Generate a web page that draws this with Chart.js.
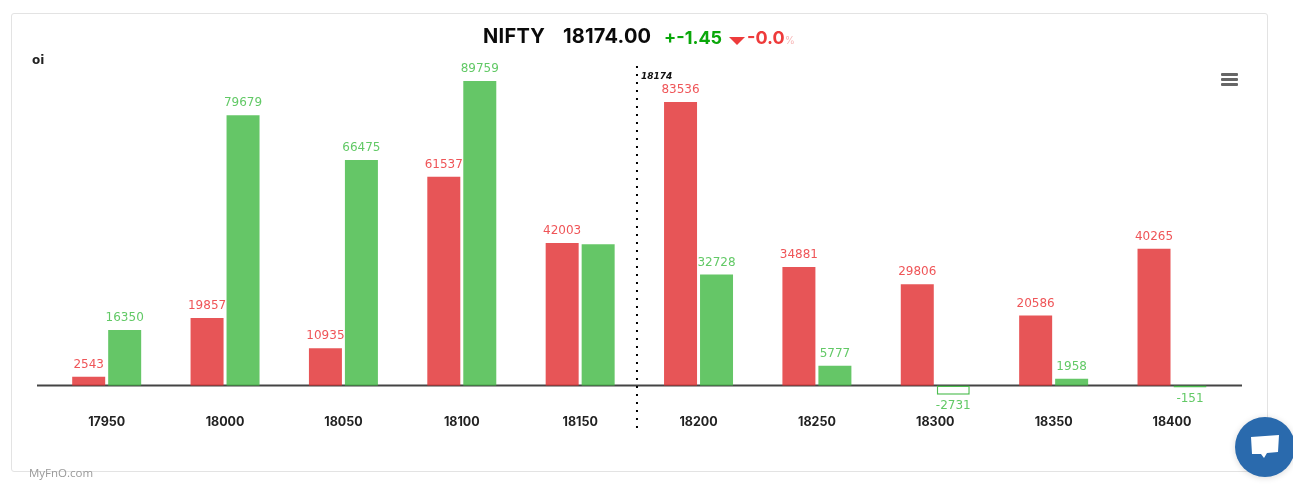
<!DOCTYPE html>
<html>
<head>
<meta charset="utf-8">
<title>NIFTY OI</title>
<script src="https://cdn.jsdelivr.net/npm/chart.js@4"></script>
<style>
  html, body { margin: 0; padding: 0; background: #fff; overflow: hidden; }
  body { width: 1293px; height: 503px; position: relative; font-family: "DejaVu Sans", sans-serif; }
  .card { position: absolute; left: 11px; top: 13px; width: 1255px; height: 457px; border: 1px solid #e3e3e3; border-radius: 3px; }
  canvas { position: absolute; left: 0; top: 0; }
  .head { position: absolute; left: 483px; top: 24px; white-space: nowrap; font-family: Inter, sans-serif; font-weight: 700; line-height: 24px; color: #0a0a0a; }
  .head span { position: absolute; top: 0; }
  .menu { position: absolute; left: 1221px; top: 73px; width: 17px; }
  .menu i { display: block; height: 3px; margin-bottom: 2px; background: #666; border-radius: 1px; }
  .brand { position: absolute; left: 29px; top: 465px; font-size: 11.5px; color: #999; font-family: "Open Sans", sans-serif; }
  .chat { position: absolute; left: 1235px; top: 417px; width: 60px; height: 60px; border-radius: 50%; background: #2a6aad; box-shadow: 0 1px 6px rgba(0,0,0,.15); }
  .chat svg { position: absolute; left: 15px; top: 18px; }
</style>
</head>
<body>
<div class="card"></div>
<canvas id="oi-chart" width="1293" height="503"></canvas>
<div class="head">
  <span style="left:0;font-size:20px;letter-spacing:.3px">NIFTY</span>
  <span style="left:80px;font-size:20px;letter-spacing:.2px">18174.00</span>
  <span style="left:181px;font-size:18px;color:#0aa70a;top:2px">+-1.45</span>
  <span style="left:246px;top:13px;width:0;height:0;border-left:8px solid transparent;border-right:8px solid transparent;border-top:8px solid #ee3b3b"></span>
  <span style="left:264px;font-size:18px;color:#ee3b3b;top:2px">-0.0</span>
  <span style="left:302px;font-size:10px;color:#f7b5b5;font-weight:400;top:4px">%</span>
</div>
<div class="menu"><i></i><i></i><i></i></div>
<div class="brand">MyFnO.com</div>
<div class="chat">
  <svg width="30" height="26" viewBox="0 0 30 26"><path d="M1 2 L29 0 L28 17 L17 18 L14 23 L11 19 L2 19 Z" fill="#fff"/></svg>
</div>

<script>
  // ── Data ───────────────────────────────────────────────────────────
  const STRIKES   = ['17950', '18000', '18050', '18100', '18150', '18200', '18250', '18300', '18350', '18400'];
  const PUT_OI    = [2543, 19857, 10935, 61537, 42003, 83536, 34881, 29806, 20586, 40265];
  const CALL_OI   = [16350, 79679, 66475, 89759, 41650, 32728, 5777, -2731, 1958, -151];
  const UNLABELLED_CALLS = ['18150'];   // label is missing on the source chart
  const SPOT      = 18174;
  const SPOT_LOW  = '18150';
  const SPOT_HIGH = '18200';
  const Y_TITLE   = 'oi';

  // ── Colours ────────────────────────────────────────────────────────
  const RED_FILL    = 'rgba(227,55,58,0.85)';
  const GREEN_FILL  = 'rgba(74,188,76,0.85)';
  const RED_LABEL   = '#ef5558';
  const GREEN_LABEL = '#62c966';
  const GREEN_LINE  = '#4dbd50';

  const LABEL_FONT = '12px "DejaVu Sans", sans-serif';

  // ── Baseline, under the bars ───────────────────────────────────────
  const baseline = {
    id: 'baseline',
    beforeDatasetsDraw(chart) {
      const { ctx } = chart;
      const y = chart.scales.y.getPixelForValue(0);
      ctx.save();
      ctx.strokeStyle = '#444';
      ctx.lineWidth = 2;
      ctx.beginPath();
      ctx.moveTo(37, y);
      ctx.lineTo(1242, y);
      ctx.stroke();
      ctx.restore();
    },
  };

  // ── Value labels, spot marker, y title ─────────────────────────────
  const overlays = {
    id: 'overlays',
    afterDatasetsDraw(chart) {
      const { ctx, scales } = chart;
      ctx.save();
      ctx.font = LABEL_FONT;
      ctx.textAlign = 'center';
      ctx.textBaseline = 'middle';

      chart.data.datasets.forEach((ds, di) => {
        const meta = chart.getDatasetMeta(di);
        ds.data.forEach((v, i) => {
          if (di === 1 && UNLABELLED_CALLS.includes(STRIKES[i])) return;
          const bar = meta.data[i];
          ctx.fillStyle = di === 0 ? RED_LABEL : GREEN_LABEL;
          ctx.fillText(String(v), bar.x, v < 0 ? bar.y + 11 : bar.y - 12);
        });
      });

      // spot sits between two strikes on the category axis
      const lo = scales.x.getPixelForValue(STRIKES.indexOf(SPOT_LOW));
      const hi = scales.x.getPixelForValue(STRIKES.indexOf(SPOT_HIGH));
      const x = lo + (hi - lo) * (SPOT - +SPOT_LOW) / (+SPOT_HIGH - +SPOT_LOW);
      ctx.strokeStyle = '#000';
      ctx.lineWidth = 2;
      ctx.setLineDash([2, 6]);
      ctx.beginPath();
      ctx.moveTo(x, 66);
      ctx.lineTo(x, 428);
      ctx.stroke();
      ctx.setLineDash([]);

      ctx.fillStyle = '#111';
      ctx.textAlign = 'left';
      ctx.font = 'italic bold 9px "DejaVu Sans", sans-serif';
      ctx.fillText(String(SPOT), x + 4, 77);

      ctx.fillStyle = '#222';
      ctx.font = 'bold 12px "DejaVu Sans", sans-serif';
      ctx.fillText(Y_TITLE, 32, 61);
      ctx.restore();
    },
  };

  // ── Chart ──────────────────────────────────────────────────────────
  new Chart(document.getElementById('oi-chart').getContext('2d'), {
    type: 'bar',
    data: {
      labels: STRIKES,
      datasets: [
        {
          label: 'Put OI',
          data: PUT_OI,
          backgroundColor: RED_FILL,
          borderWidth: 0,
        },
        {
          label: 'Call OI',
          data: CALL_OI,
          // negative bars are hollow on the source chart
          backgroundColor: CALL_OI.map(v => (v < 0 ? '#fff' : GREEN_FILL)),
          borderColor: GREEN_LINE,
          borderWidth: CALL_OI.map(v => (v < 0 ? 1.5 : 0)),
          borderSkipped: false,
          minBarLength: 2,
        },
      ],
    },
    options: {
      responsive: false,
      animation: false,
      categoryPercentage: 0.608,
      barPercentage: 0.917,
      layout: { padding: { left: 47.5, right: 61.8, top: 60, bottom: 67.4 } },
      plugins: { legend: { display: false }, tooltip: { enabled: false } },
      scales: {
        x: {
          grid: { display: false },
          border: { display: false },
          ticks: {
            color: '#222',
            padding: 5.6,
            maxRotation: 0,
            font: { family: 'Inter, sans-serif', size: 12.5, weight: '700' },
          },
        },
        y: { display: false, min: -4724, max: 95955 },
      },
    },
    plugins: [baseline, overlays],
  });
</script>
</body>
</html>
